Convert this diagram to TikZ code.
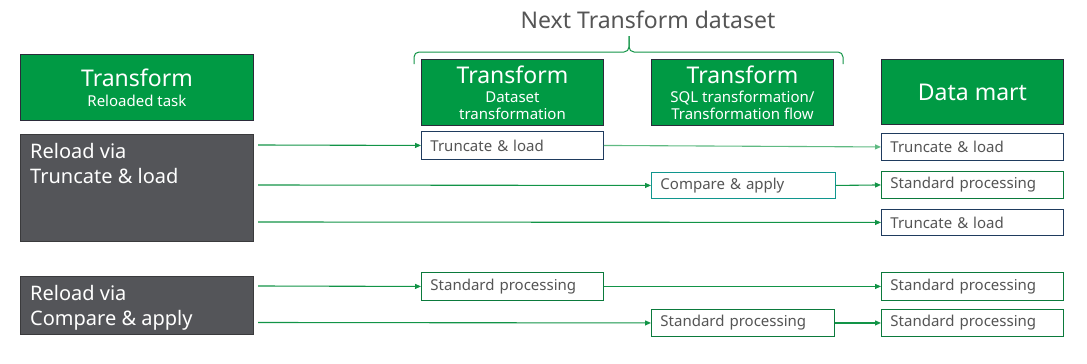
\documentclass[tikz,border=0pt]{standalone}
\usepackage{fontspec}
\setmainfont{Noto Sans}
\usetikzlibrary{arrows.meta}
\definecolor{tgreen}{HTML}{009A44}
\definecolor{hdrborder}{HTML}{2B2B3A}
\definecolor{graybox}{HTML}{545559}
\definecolor{grayborder}{HTML}{3A3A3C}
\definecolor{navy}{HTML}{1F3B5E}
\definecolor{teal}{HTML}{10968E}
\definecolor{dgreen}{HTML}{0B7A3C}
\definecolor{lgreen}{HTML}{129447}
\definecolor{paleg}{HTML}{5FBA82}
\definecolor{txtgray}{HTML}{555555}
\tikzset{
  hdr/.style={draw=hdrborder, fill=tgreen, line width=0.9pt, text=white, inner sep=0pt, align=center, anchor=north west, font=\fontsize{15}{17}\selectfont},
  gbox/.style={draw=grayborder, fill=graybox, line width=0.9pt, inner sep=0pt, anchor=north west},
  gtext/.style={text=white, inner sep=0pt, anchor=north west, align=left, font=\fontsize{20}{25}\selectfont},
  sbox/.style={line width=0.9pt, fill=white, text=txtgray, inner xsep=9pt, inner ysep=0pt, align=left, anchor=north west, font=\fontsize{15}{17}\selectfont},
  arr/.style={draw=lgreen, line width=1.1pt, -{Triangle[length=6pt,width=5pt]}},
}
\newcommand{\bigt}[1]{{\fontsize{23}{25}\selectfont #1}}
\begin{document}
\begin{tikzpicture}[x=1pt,y=-1pt]
\useasboundingbox (0,0) rectangle (1087,364);

% title and brace
\node[text=txtgray, font=\fontsize{23}{26}\selectfont, inner sep=0pt] (title) at (648,20) {Next Transform dataset};
\draw[draw=lgreen, line width=1pt, rounded corners=5pt] (414,64) -- (414,52) -- (629,52) -- (629,36);
\draw[draw=lgreen, line width=1pt, rounded corners=5pt] (629,36) -- (629,52) -- (843,52) -- (843,64);

% headers
\node[hdr, minimum width=233pt, minimum height=66pt] (rel) at (20,54) {\bigt{Transform}\\[3pt]Reloaded task};
\node[hdr, minimum width=182pt, minimum height=66pt] (dst) at (421,59) {\bigt{Transform}\\[2pt]Dataset\\transformation};
\node[hdr, minimum width=182pt, minimum height=66pt] (sql) at (651,59) {\bigt{Transform}\\[2pt]SQL transformation/\\Transformation flow};
\node[hdr, minimum width=182pt, minimum height=65pt] (dm) at (881,59) {\bigt{Data mart}};

% gray boxes
\node[gbox, minimum width=233pt, minimum height=107pt] (g1) at (20,134) {};
\node[gtext] (g1t) at (30,143) {Reload via\\Truncate \& load};
\node[gbox, minimum width=233pt, minimum height=58pt] (g2) at (20,276) {};
\node[gtext] (g2t) at (30,285) {Reload via\\Compare \& apply};

% middle boxes
\node[sbox, draw=navy, text width=164pt, minimum height=28pt] (tl1) at (421,131) {Truncate \& load};
\node[sbox, draw=teal, text width=166pt, minimum height=26pt] (ca) at (651,172) {Compare \& apply};
\node[sbox, draw=dgreen, text width=164pt, minimum height=28pt] (sp1) at (421,272) {Standard processing};
\node[sbox, draw=dgreen, text width=165pt, minimum height=27pt] (sp2) at (651,309) {Standard processing};

% data mart boxes
\node[sbox, draw=navy, text width=164pt, minimum height=27pt] (dm1) at (881,133) {Truncate \& load};
\node[sbox, draw=dgreen, text width=164pt, minimum height=27pt] (dm2) at (881,171) {Standard processing};
\node[sbox, draw=navy, text width=164pt, minimum height=26pt] (dm3) at (881,209) {Truncate \& load};
\node[sbox, draw=dgreen, text width=164pt, minimum height=28pt] (dm4) at (881,272) {Standard processing};
\node[sbox, draw=dgreen, text width=164pt, minimum height=27pt] (dm5) at (881,309) {Standard processing};

% free ends
\coordinate (s1) at (258,145);
\coordinate (s2) at (258,185);
\coordinate (s3) at (258,222);
\coordinate (s4) at (258,286);
\coordinate (s5) at (258,322.5);

% connectors
\draw[arr] (s1) -- (tl1.west);
\draw[arr, draw=paleg] (tl1.east) -- (dm1.west);
\draw[arr] (s2) -- (ca.west);
\draw[arr] (ca.east) -- (dm2.west);
\draw[arr] (s3) -- (dm3.west);
\draw[arr] (s4) -- (sp1.west);
\draw[arr] (sp1.east) -- (dm4.west);
\draw[arr] (s5) -- (sp2.west);
\draw[arr] (sp2.east) -- (dm5.west);
\end{tikzpicture}
\end{document}
